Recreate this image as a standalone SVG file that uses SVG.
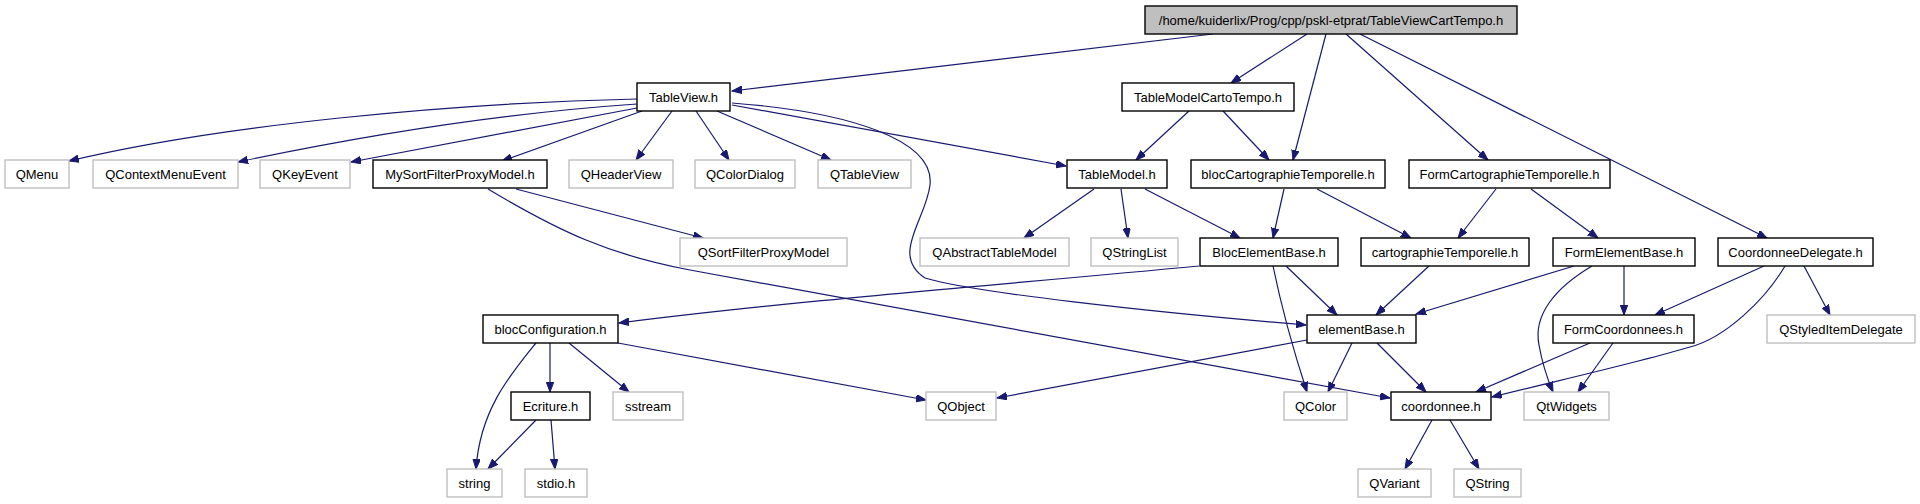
<svg xmlns="http://www.w3.org/2000/svg" width="1920" height="504" viewBox="0 0 1920 504">
<defs>
<style>
.n rect{fill:#ffffff;stroke:#000000;stroke-width:1.4}
.x rect{fill:#ffffff;stroke:#bfbfbf;stroke-width:1.4}
.r rect{fill:#bfbfbf;stroke:#000000;stroke-width:1.4}
text{font-family:"Liberation Sans",Arial,Helvetica,sans-serif;font-size:13px;fill:#000000;text-anchor:middle}
#edges path{fill:none;stroke:#191970;stroke-width:1.2;marker-end:url(#ah)}
</style>
<marker id="ah" markerUnits="userSpaceOnUse" markerWidth="11" markerHeight="8" refX="10" refY="3.75" orient="auto">
<path d="M0,0 L10,3.75 L0,7.5 z" fill="#191970" stroke="#191970" stroke-width="1"/>
</marker>
</defs>
<rect x="0" y="0" width="1920" height="504" fill="#ffffff"/>
<g id="edges">
<path d="M1213,34 L732,91"/>
<path d="M1307,34 L1231,83"/>
<path d="M1326,34 L1293,160"/>
<path d="M1346,34 L1488,160"/>
<path d="M1360,34 L1767,238"/>
<path d="M637,99 C450,103 220,125 69,161"/>
<path d="M637,104 C520,112 380,132 238,162"/>
<path d="M637,108 L351,162"/>
<path d="M642,111 L502,161"/>
<path d="M672,111 L636,160"/>
<path d="M696,111 L729,160"/>
<path d="M717,111 L831,160"/>
<path d="M732,105 L1066,166"/>
<path d="M732,103 C850,112 935,140 930,185 C926,220 890,255 925,278 C970,292 1150,312 1306,325"/>
<path d="M1189,111 L1136,160"/>
<path d="M1223,111 L1269,160"/>
<path d="M1094,189 L1024,238"/>
<path d="M1121,189 L1128,238"/>
<path d="M1145,189 L1240,238"/>
<path d="M1284,189 L1273,238"/>
<path d="M1317,189 L1411,238"/>
<path d="M1496,189 L1458,238"/>
<path d="M1531,189 L1598,238"/>
<path d="M516,189 L703,238"/>
<path d="M488,189 C560,232 610,255 690,270 L1390,398"/>
<path d="M1199,266 C1000,285 800,300 619,323"/>
<path d="M1286,266 L1337,315"/>
<path d="M1273,266 C1280,300 1290,340 1307,392"/>
<path d="M1429,266 L1376,315"/>
<path d="M1574,266 L1416,314"/>
<path d="M1624,266 L1624,315"/>
<path d="M1592,266 C1555,288 1533,315 1539,345 C1542,362 1547,378 1553,392"/>
<path d="M1764,266 L1655,315"/>
<path d="M1785,266 C1765,300 1725,338 1690,347 C1640,362 1560,380 1492,397"/>
<path d="M1804,266 L1830,315"/>
<path d="M536,343 C510,375 480,410 476,469"/>
<path d="M550,343 L550,392"/>
<path d="M569,343 L629,392"/>
<path d="M618,343 L926,400"/>
<path d="M536,420 L488,469"/>
<path d="M551,420 L555,469"/>
<path d="M1307,340 L997,398"/>
<path d="M1352,343 L1328,392"/>
<path d="M1377,343 L1426,392"/>
<path d="M1432,420 L1405,469"/>
<path d="M1450,420 L1479,469"/>
<path d="M1590,343 L1476,392"/>
<path d="M1613,343 L1578,392"/>
</g>
<g id="root" class="r"><rect x="1145" y="6" width="372" height="28"/><text x="1331" y="24.5">/home/kuiderlix/Prog/cpp/pskl-etprat/TableViewCartTempo.h</text></g>
<g id="TableView" class="n"><rect x="637" y="83" width="93" height="28"/><text x="683.5" y="101.5">TableView.h</text></g>
<g id="TableModelCartoTempo" class="n"><rect x="1122" y="83" width="172" height="28"/><text x="1208" y="101.5">TableModelCartoTempo.h</text></g>
<g id="QMenu" class="x"><rect x="5" y="160" width="64" height="28"/><text x="37" y="178.5">QMenu</text></g>
<g id="QContextMenuEvent" class="x"><rect x="93" y="160" width="145" height="28"/><text x="165.5" y="178.5">QContextMenuEvent</text></g>
<g id="QKeyEvent" class="x"><rect x="260" y="160" width="90" height="28"/><text x="305" y="178.5">QKeyEvent</text></g>
<g id="MySortFilterProxyModel" class="n"><rect x="373" y="160" width="174" height="28"/><text x="460" y="178.5">MySortFilterProxyModel.h</text></g>
<g id="QHeaderView" class="x"><rect x="569" y="160" width="104" height="28"/><text x="621" y="178.5">QHeaderView</text></g>
<g id="QColorDialog" class="x"><rect x="695" y="160" width="100" height="28"/><text x="745" y="178.5">QColorDialog</text></g>
<g id="QTableView" class="x"><rect x="818" y="160" width="93" height="28"/><text x="864.5" y="178.5">QTableView</text></g>
<g id="TableModel" class="n"><rect x="1067" y="160" width="100" height="28"/><text x="1117" y="178.5">TableModel.h</text></g>
<g id="blocCartographieTemporelle" class="n"><rect x="1191" y="160" width="194" height="28"/><text x="1288" y="178.5">blocCartographieTemporelle.h</text></g>
<g id="FormCartographieTemporelle" class="n"><rect x="1409" y="160" width="201" height="28"/><text x="1509.5" y="178.5">FormCartographieTemporelle.h</text></g>
<g id="QSortFilterProxyModel" class="x"><rect x="680" y="238" width="167" height="28"/><text x="763.5" y="256.5">QSortFilterProxyModel</text></g>
<g id="QAbstractTableModel" class="x"><rect x="920" y="238" width="149" height="28"/><text x="994.5" y="256.5">QAbstractTableModel</text></g>
<g id="QStringList" class="x"><rect x="1091" y="238" width="87" height="28"/><text x="1134.5" y="256.5">QStringList</text></g>
<g id="BlocElementBase" class="n"><rect x="1200" y="238" width="138" height="28"/><text x="1269" y="256.5">BlocElementBase.h</text></g>
<g id="cartographieTemporelle" class="n"><rect x="1361" y="238" width="168" height="28"/><text x="1445" y="256.5">cartographieTemporelle.h</text></g>
<g id="FormElementBase" class="n"><rect x="1553" y="238" width="142" height="28"/><text x="1624" y="256.5">FormElementBase.h</text></g>
<g id="CoordonneeDelegate" class="n"><rect x="1718" y="238" width="155" height="28"/><text x="1795.5" y="256.5">CoordonneeDelegate.h</text></g>
<g id="blocConfiguration" class="n"><rect x="483" y="315" width="135" height="28"/><text x="550.5" y="333.5">blocConfiguration.h</text></g>
<g id="elementBase" class="n"><rect x="1307" y="315" width="109" height="28"/><text x="1361.5" y="333.5">elementBase.h</text></g>
<g id="FormCoordonnees" class="n"><rect x="1553" y="315" width="141" height="28"/><text x="1623.5" y="333.5">FormCoordonnees.h</text></g>
<g id="QStyledItemDelegate" class="x"><rect x="1767" y="315" width="148" height="28"/><text x="1841" y="333.5">QStyledItemDelegate</text></g>
<g id="Ecriture" class="n"><rect x="511" y="392" width="79" height="28"/><text x="550.5" y="410.5">Ecriture.h</text></g>
<g id="sstream" class="x"><rect x="613" y="392" width="70" height="28"/><text x="648" y="410.5">sstream</text></g>
<g id="QObject" class="x"><rect x="926" y="392" width="70" height="28"/><text x="961" y="410.5">QObject</text></g>
<g id="QColor" class="x"><rect x="1284" y="392" width="63" height="28"/><text x="1315.5" y="410.5">QColor</text></g>
<g id="coordonnee" class="n"><rect x="1391" y="392" width="100" height="28"/><text x="1441" y="410.5">coordonnee.h</text></g>
<g id="QtWidgets" class="x"><rect x="1524" y="392" width="85" height="28"/><text x="1566.5" y="410.5">QtWidgets</text></g>
<g id="string" class="x"><rect x="447" y="469" width="55" height="28"/><text x="474.5" y="487.5">string</text></g>
<g id="stdio" class="x"><rect x="525" y="469" width="62" height="28"/><text x="556" y="487.5">stdio.h</text></g>
<g id="QVariant" class="x"><rect x="1358" y="469" width="73" height="28"/><text x="1394.5" y="487.5">QVariant</text></g>
<g id="QString" class="x"><rect x="1454" y="469" width="67" height="28"/><text x="1487.5" y="487.5">QString</text></g>
</svg>
